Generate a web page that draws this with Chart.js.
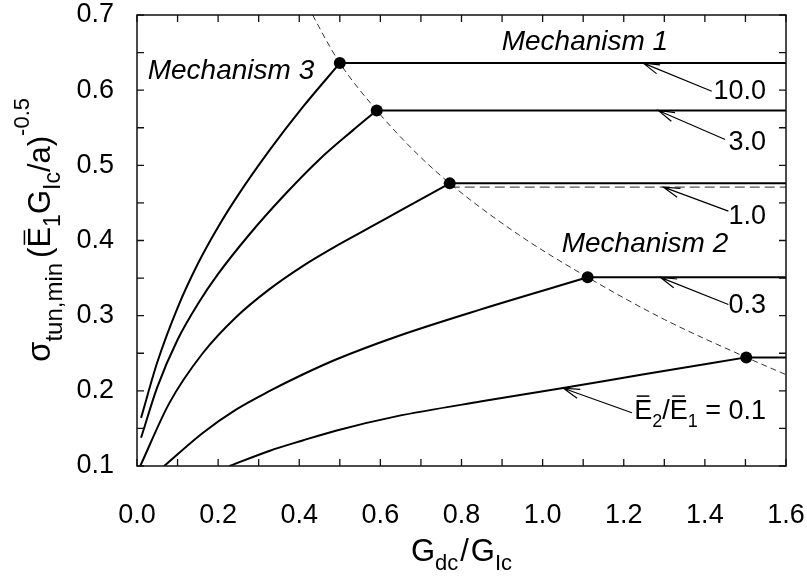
<!DOCTYPE html>
<html>
<head>
<meta charset="utf-8">
<script src="https://cdn.jsdelivr.net/npm/chart.js@4/dist/chart.umd.min.js"></script>
<style>
html,body{margin:0;padding:0;background:#fff;}
canvas{display:block;}
</style>
</head>
<body>
<canvas id="c" width="807" height="576"></canvas>
<script>
// ---------------- data ----------------
const xTickValues = [0,0.1,0.2,0.3,0.4,0.5,0.6,0.7,0.8,0.9,1.0,1.1,1.2,1.3,1.4,1.5,1.6];
const xTickLabels = ['0.0','','0.2','','0.4','','0.6','','0.8','','1.0','','1.2','','1.4','','1.6'];
const yTickValues = [0.1,0.15,0.2,0.25,0.3,0.35,0.4,0.45,0.5,0.55,0.6,0.65,0.7];
const yTickLabels = ['0.1','','0.2','','0.3','','0.4','','0.5','','0.6','','0.7'];

const ratioLabels = ['10.0','3.0','1.0','0.3','0.1'];
// transition points (dots) for E2/E1 = 10, 3, 1, 0.3, 0.1
const transX = [0.5, 0.591, 0.771, 1.111, 1.502];
const transY = [0.636, 0.573, 0.476, 0.351, 0.2445];

// Mechanism 3 branches
const curve10X = [0.01, 0.05, 0.1, 0.15, 0.2, 0.25, 0.326, 0.408, 0.5];
const curve10Y = [0.164, 0.238, 0.3105, 0.369, 0.418, 0.461, 0.5195, 0.577, 0.636];
const curve3X  = [0.01, 0.05, 0.1, 0.15, 0.2, 0.277, 0.36, 0.449, 0.532, 0.591];
const curve3Y  = [0.1375, 0.205, 0.268, 0.3155, 0.3555, 0.408, 0.4585, 0.5075, 0.5465, 0.573];
const curve1X  = [0.008, 0.08, 0.162, 0.244, 0.326, 0.4085, 0.4906, 0.573, 0.65, 0.771];
const curve1Y  = [0.1, 0.184, 0.25, 0.298, 0.335, 0.366, 0.3925, 0.417, 0.44, 0.476];
const curve03X = [0.067, 0.162, 0.244, 0.326, 0.4085, 0.4906, 0.639, 0.8457, 1.111];
const curve03Y = [0.1, 0.144, 0.175, 0.1995, 0.2217, 0.2417, 0.272, 0.308, 0.351];
const curve01X = [0.228, 0.326, 0.4085, 0.49, 0.639, 0.85, 1.043, 1.25, 1.502];
const curve01Y = [0.1, 0.12, 0.134, 0.147, 0.166, 0.186, 0.203, 0.222, 0.2445];

// Mechanism 1 plateaus end at the right edge
const plateauEndX = 1.6;

// dashed boundary between mechanisms
const boundaryX = [0.433, 0.466, 0.5, 0.591, 0.68, 0.771, 0.94, 1.111, 1.3, 1.502, 1.6];
const boundaryY = [0.7, 0.667, 0.636, 0.573, 0.521, 0.476, 0.408, 0.351, 0.295, 0.2445, 0.2215];

// dashed horizontal for E2/E1 = 1.0
const asymX = [0.771, 1.6];
const asymY = [0.471, 0.471];

// annotation arrows (data units)
const arrowTailX = [1.417, 1.45, 1.458, 1.458, 1.22];
const arrowTailY = [0.5986, 0.5344, 0.439, 0.3148, 0.1708];
const arrowTipX  = [1.248, 1.285, 1.298, 1.29, 1.051];
const arrowTipY  = [0.636, 0.573, 0.471, 0.351, 0.2035];
// ratio label anchors (right edge, baseline)
const ratioLabelX = [1.551, 1.551, 1.551, 1.551, 1.551];
const ratioLabelY = [0.5876, 0.521, 0.4213, 0.3038, 0.1628];

const mechTexts = ['Mechanism 1', 'Mechanism 2', 'Mechanism 3'];
const mechX = [0.899, 1.047, 0.0264];
const mechY = [0.654, 0.3844, 0.615];

// ---------------- helpers ----------------
const FONT = '"Liberation Sans", Arial, Helvetica, sans-serif';
const pts = (xs, ys) => xs.map((v, i) => ({x: v, y: ys[i]}));
const fontOf = s => `${s.italic ? 'italic ' : ''}${s.size}px ${FONT}`;

function drawRich(ctx, segs, x, y, align) {
  const widths = segs.map(s => { ctx.font = fontOf(s); return ctx.measureText(s.t).width + (s.gap || 0); });
  const total = widths.reduce((a, b) => a + b, 0);
  let cx = align === 'right' ? x - total : (align === 'center' ? x - total / 2 : x);
  ctx.textAlign = 'left';
  ctx.textBaseline = 'alphabetic';
  segs.forEach((s, i) => {
    ctx.font = fontOf(s);
    const w = ctx.measureText(s.t).width;
    ctx.fillText(s.t, cx, y + (s.dy || 0));
    if (s.bar) {
      ctx.fillRect(cx + s.size * 0.09, y + (s.dy || 0) - s.size * 0.72 - 4, w - s.size * 0.2, 1.5);
    }
    cx += widths[i];
  });
}

const curveStyle = {borderColor: '#000', borderWidth: 2, pointRadius: 0, fill: false, cubicInterpolationMode: 'monotone'};
const flatStyle  = {borderColor: '#000', borderWidth: 2, pointRadius: 0, fill: false, tension: 0};

const risingX = [curve10X, curve3X, curve1X, curve03X, curve01X];
const risingY = [curve10Y, curve3Y, curve1Y, curve03Y, curve01Y];

const datasets = [];
datasets.push({data: pts(transX, transY), showLine: false, pointRadius: 6, pointHoverRadius: 6,
  pointBackgroundColor: '#000', pointBorderColor: '#000', borderWidth: 0, order: 0});
risingX.forEach((xs, i) => datasets.push(Object.assign({data: pts(xs, risingY[i]), order: 2}, curveStyle)));
transX.forEach((tx, i) => datasets.push(Object.assign({data: pts([tx, plateauEndX], [transY[i], transY[i]]), order: 2}, flatStyle)));
datasets.push({data: pts(boundaryX, boundaryY), borderColor: '#333', borderWidth: 1, borderDash: [6, 4],
  pointRadius: 0, fill: false, cubicInterpolationMode: 'monotone', order: 3});
datasets.push({data: pts(asymX, asymY), borderColor: '#555', borderWidth: 1.2, borderDash: [10, 5],
  pointRadius: 0, fill: false, tension: 0, order: 3});

// ---------------- decoration plugin ----------------
const decor = {
  id: 'decor',
  afterDatasetsDraw(chart) {
    const {ctx, scales: {x, y}} = chart;
    ctx.save();
    ctx.fillStyle = '#000';
    ctx.strokeStyle = '#000';
    ctx.lineWidth = 1.2;
    arrowTailX.forEach((tx, i) => {
      const x0 = x.getPixelForValue(tx), y0 = y.getPixelForValue(arrowTailY[i]);
      const x1 = x.getPixelForValue(arrowTipX[i]), y1 = y.getPixelForValue(arrowTipY[i]);
      const ang = Math.atan2(y0 - y1, x0 - x1);
      const L = 17, h = 0.28;
      ctx.beginPath();
      ctx.moveTo(x0, y0); ctx.lineTo(x1, y1);
      ctx.moveTo(x1 + L * Math.cos(ang + h), y1 + L * Math.sin(ang + h));
      ctx.lineTo(x1, y1);
      ctx.lineTo(x1 + L * Math.cos(ang - h), y1 + L * Math.sin(ang - h));
      ctx.stroke();
    });
    ratioLabels.forEach((lab, i) => {
      const px = x.getPixelForValue(ratioLabelX[i]), py = y.getPixelForValue(ratioLabelY[i]);
      if (i < ratioLabels.length - 1) {
        drawRich(ctx, [{t: lab, size: 27}], px, py, 'right');
      } else {
        drawRich(ctx, [
          {t: 'E', size: 27, bar: true},
          {t: '2', size: 18, dy: 8},
          {t: '/', size: 27},
          {t: 'E', size: 27, bar: true},
          {t: '1', size: 18, dy: 8},
          {t: ' = ' + lab, size: 27}
        ], px, py, 'right');
      }
    });
    mechTexts.forEach((m, i) => {
      drawRich(ctx, [{t: m, size: 28, italic: true}], x.getPixelForValue(mechX[i]), y.getPixelForValue(mechY[i]), 'left');
    });
    ctx.restore();
  },
  afterDraw(chart) {
    const {ctx, chartArea: a, scales: {x, y}} = chart;
    ctx.save();
    ctx.strokeStyle = '#111';
    ctx.lineWidth = 1.5;
    ctx.strokeRect(a.left, a.top, a.right - a.left, a.bottom - a.top);
    ctx.lineWidth = 1.3;
    ctx.beginPath();
    x.ticks.forEach(t => {
      const p = x.getPixelForValue(t.value);
      ctx.moveTo(p, a.bottom); ctx.lineTo(p, a.bottom - 7);
      ctx.moveTo(p, a.top); ctx.lineTo(p, a.top + 7);
    });
    y.ticks.forEach(t => {
      const p = y.getPixelForValue(t.value);
      ctx.moveTo(a.left, p); ctx.lineTo(a.left + 7, p);
      ctx.moveTo(a.right, p); ctx.lineTo(a.right - 7, p);
    });
    ctx.stroke();
    ctx.fillStyle = '#000';
    drawRich(ctx, [
      {t: 'G', size: 31},
      {t: 'dc', size: 22, dy: 9, gap: 2},
      {t: '/', size: 31, gap: 2},
      {t: 'G', size: 31},
      {t: 'Ic', size: 22, dy: 9}
    ], (a.left + a.right) / 2, 561, 'center');
    ctx.translate(50, 230);
    ctx.rotate(-Math.PI / 2);
    drawRich(ctx, [
      {t: 'σ', size: 33},
      {t: 'tun,min', size: 24, dy: 12, gap: 5},
      {t: '(', size: 31},
      {t: 'E', size: 31, bar: true},
      {t: '1', size: 23, dy: 10},
      {t: 'G', size: 31},
      {t: 'Ic', size: 23, dy: 10},
      {t: '/a)', size: 31},
      {t: '-0.5', size: 22, dy: -21}
    ], 0, 0, 'center');
    ctx.restore();
  }
};

Chart.defaults.font.family = FONT;
Chart.defaults.color = '#000';

new Chart(document.getElementById('c'), {
  type: 'line',
  data: {datasets},
  options: {
    responsive: false,
    animation: false,
    events: [],
    layout: {padding: {left: 0, right: 21, top: 15, bottom: 0}},
    plugins: {legend: {display: false}, tooltip: {enabled: false}},
    scales: {
      x: {
        type: 'linear', min: 0, max: 1.6,
        grid: {display: false},
        border: {display: false},
        afterBuildTicks: s => { s.ticks = xTickValues.map(v => ({value: v})); },
        afterFit: s => { s.height = 110; s.paddingLeft = 0; s.paddingRight = 0; },
        ticks: {
          autoSkip: false, maxRotation: 0, padding: 28,
          font: {size: 27, lineHeight: 1},
          callback: (v, i) => xTickLabels[i]
        }
      },
      y: {
        type: 'linear', min: 0.1, max: 0.7,
        grid: {display: false},
        border: {display: false},
        afterBuildTicks: s => { s.ticks = yTickValues.map(v => ({value: v})); },
        afterFit: s => { s.width = 137; s.paddingTop = 0; s.paddingBottom = 0; },
        ticks: {
          autoSkip: false, padding: 15,
          font: {size: 27, lineHeight: 1},
          callback: (v, i) => yTickLabels[i]
        }
      }
    }
  },
  plugins: [decor]
});
</script>
</body>
</html>
